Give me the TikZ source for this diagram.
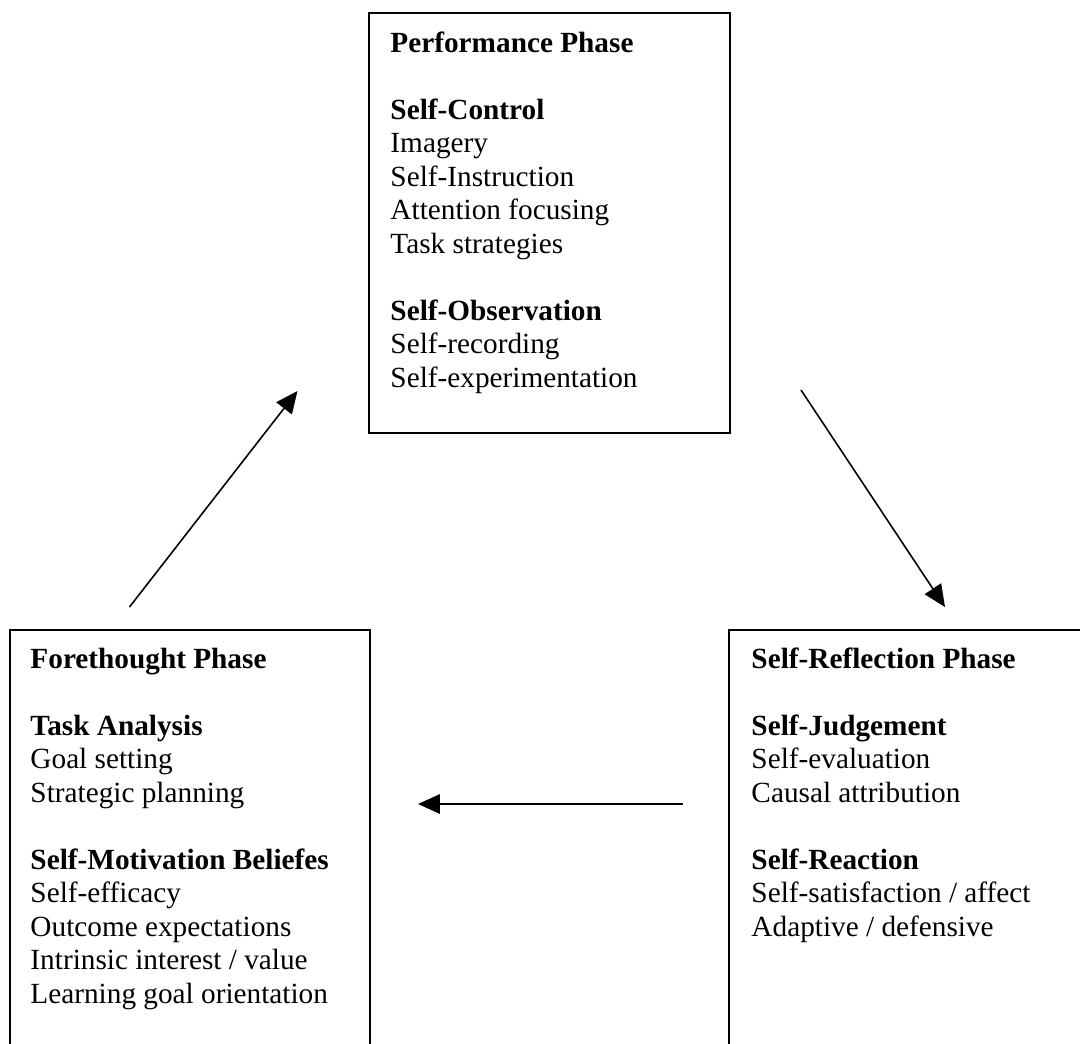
\documentclass[tikz,border=0pt]{standalone}
\usepackage{fontspec}
\setmainfont{Liberation Serif}
\usetikzlibrary{arrows.meta}

\begin{document}
\begin{tikzpicture}[x=0.41pt, y=-0.41pt,
  line/.style={anchor=base west, inner sep=0pt, font=\fontsize{12}{14}\selectfont},
  phase/.style={line width=0.8pt},
  flow/.style={line width=0.65pt, -{Triangle[length=9pt, width=8pt]}}]

 \useasboundingbox (0,0) rectangle (1080,1043);
 \clip (0,0) rectangle (1080,1043);

 %boxes
 \draw[phase] (369,13) rectangle (730,433);
 \draw[phase] (10,1060) |- (370,630) -- (370,1060);
 \draw[phase] (729,1060) |- (1090,630);

 %performance phase
 \foreach \i/\name in {0/{\textbf{Performance Phase}}, 2/{\textbf{Self-Control}}, 3/Imagery,
     4/Self-Instruction, 5/Attention focusing, 6/Task strategies,
     8/{\textbf{Self-Observation}}, 9/Self-recording, 10/Self-experimentation} {
         \node[line] (P\i) at (390, 52+\i*33.5) {\name};
 }

 %forethought phase
 \foreach \i/\name in {0/{\textbf{Forethought Phase}}, 2/{\textbf{Task Analysis}}, 3/Goal setting,
     4/Strategic planning, 6/{\textbf{Self-Motivation Beliefes}}, 7/Self-efficacy,
     8/Outcome expectations, 9/{Intrinsic interest / value}, 10/Learning goal orientation} {
         \node[line] (F\i) at (30, 668+\i*33.5) {\name};
 }

 %self-reflection phase
 \foreach \i/\name in {0/{\textbf{Self-Reflection Phase}}, 2/{\textbf{Self-Judgement}}, 3/Self-evaluation,
     4/Causal attribution, 6/{\textbf{Self-Reaction}}, 7/{Self-satisfaction / affect},
     8/{Adaptive / defensive}} {
         \node[line] (R\i) at (751, 668+\i*33.5) {\name};
 }

 %arrows
 \coordinate (F-out) at (129.5,607);
 \coordinate (P-in) at (297.5,391);
 \coordinate (P-out) at (801,390);
 \coordinate (R-in) at (945,607);
 \coordinate (R-out) at (683,804);
 \coordinate (F-in) at (418,804);

 \draw[flow] (F-out) -- (P-in);
 \draw[flow] (P-out) -- (R-in);
 \draw[flow] (R-out) -- (F-in);

\end{tikzpicture}
\end{document}
